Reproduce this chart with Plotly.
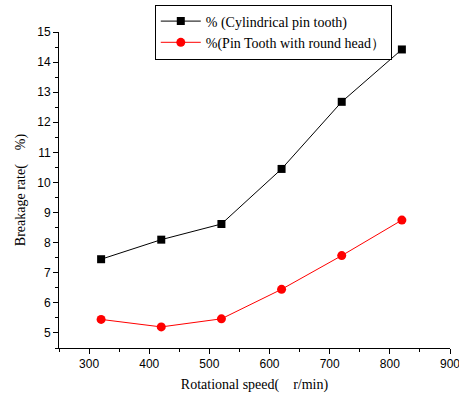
import plotly.graph_objects as go

speed = [320, 420, 520, 620, 720, 820]
cyl = [7.45, 8.1, 8.62, 10.45, 12.68, 14.42]
rnd = [5.45, 5.2, 5.47, 6.45, 7.57, 8.75]
name_cyl = "% (Cylindrical pin tooth)"
name_rnd = "%(Pin Tooth with round head\uff09"
x_title = "Rotational speed(\u2003r/min)"
y_title = "Breakage rate(\u2003%)"

fig = go.Figure()
fig.add_trace(go.Scatter(x=speed, y=cyl, mode="lines+markers", name=name_cyl,
                         line=dict(color="black", width=1),
                         marker=dict(symbol="square", size=8, color="black")))
fig.add_trace(go.Scatter(x=speed, y=rnd, mode="lines+markers", name=name_rnd,
                         line=dict(color="red", width=1),
                         marker=dict(symbol="circle", size=9, color="red")))

fig.update_layout(
    width=459, height=400,
    margin=dict(l=59, r=9, t=32, b=52, autoexpand=False),
    plot_bgcolor="white", paper_bgcolor="white",
    showlegend=True,
    legend=dict(x=0.245, y=1.087, xanchor="left", yanchor="top",
                bordercolor="black", borderwidth=1, bgcolor="white",
                font=dict(family="Liberation Serif", size=14, color="black"),
                tracegroupgap=0, itemwidth=40),
    xaxis=dict(range=[250, 900], tickvals=[300, 400, 500, 600, 700, 800, 900],
               automargin=False,
               showgrid=False, zeroline=False, showline=True, linecolor="black", linewidth=1,
               ticks="outside", ticklen=5, tickcolor="black", ticklabeloverflow="allow",
               minor=dict(dtick=50, ticks="outside", ticklen=3, tickcolor="black", showgrid=False),
               tickfont=dict(family="Liberation Sans", size=12, color="black"),
               title=dict(text=x_title, font=dict(family="Liberation Serif", size=14, color="black"), standoff=8)),
    yaxis=dict(range=[4.5, 15], tickvals=list(range(5, 16)),
               automargin=False,
               showgrid=False, zeroline=False, showline=True, linecolor="black", linewidth=1,
               ticks="outside", ticklen=5, tickcolor="black",
               minor=dict(dtick=0.5, ticks="outside", ticklen=3, tickcolor="black", showgrid=False),
               tickfont=dict(family="Liberation Sans", size=12, color="black"),
               title=dict(text=y_title, font=dict(family="Liberation Serif", size=14, color="black"), standoff=8)),
)
fig.write_html("out.html")
